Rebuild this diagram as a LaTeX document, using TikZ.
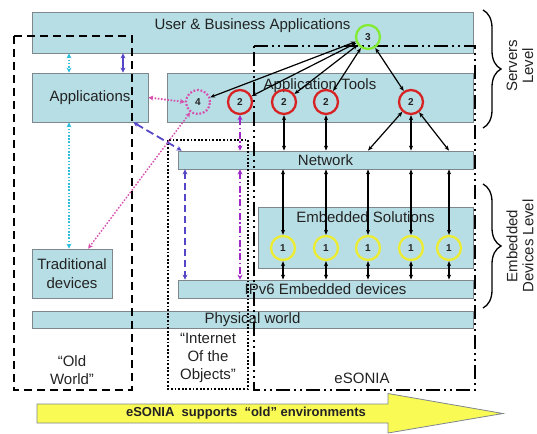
\documentclass[tikz,border=0pt]{standalone}
\usepackage{fontspec}
\setmainfont{Liberation Sans}
\usetikzlibrary{arrows.meta,calc,decorations.pathreplacing}
\definecolor{boxfill}{RGB}{183,222,228}
\definecolor{boxdraw}{RGB}{125,135,140}
\definecolor{txt}{RGB}{35,35,35}
\definecolor{cgreen}{RGB}{130,235,50}
\definecolor{cred}{RGB}{215,35,35}
\definecolor{cyel}{RGB}{236,236,50}
\definecolor{cpink}{RGB}{215,80,175}
\definecolor{ccyan}{RGB}{45,190,220}
\definecolor{cblue}{RGB}{85,70,200}
\definecolor{cpurp}{RGB}{160,40,200}
\definecolor{arrfill}{RGB}{250,250,85}
\tikzset{
  box/.style={draw=boxdraw, fill=boxfill, line width=0.8pt, inner sep=0pt, text=txt, font=\fontsize{15}{17}\selectfont, align=center},
  toplbl/.style={anchor=north, inner sep=0pt, text=txt, font=\fontsize{15}{17}\selectfont},
  plain/.style={text=txt, font=\fontsize{15}{18}\selectfont, align=center, inner sep=0pt},
  num/.style={circle, minimum size=24pt, inner sep=0pt, line width=2.3pt, text=txt, font=\bfseries\fontsize{10}{10}\selectfont},
  blk/.style={line width=1.2pt, black, {Stealth[length=5pt,width=4pt]}-{Stealth[length=5pt,width=4pt]}},
  oldframe/.style={line width=2.2pt, dash pattern=on 8pt off 5pt},
  iotframe/.style={line width=2.3pt, dash pattern=on 1.8pt off 1.8pt},
  esframe/.style={line width=2pt, dash pattern=on 14pt off 4pt on 2pt off 4pt on 2pt off 4pt},
  brc/.style={decorate, decoration={brace, amplitude=18pt}, line width=1.3pt, black},
}
\begin{document}
\begin{tikzpicture}[x=1pt,y=-1pt]
\useasboundingbox (0,0) rectangle (537,433);
% boxes
\node[box, minimum width=441pt, minimum height=41pt,
  label={[toplbl, yshift=-7pt]north:User \& Business Applications}] (uba) at (252.5,32.5) {};
\node[box, minimum width=116pt, minimum height=49pt] (apps) at (90,97.5) {Applications};
\node[box, minimum width=306pt, minimum height=49pt,
  label={[toplbl, yshift=-6pt]north:Application Tools}] (tools) at (320,97.5) {};
\node[box, minimum width=295pt, minimum height=18pt] (net) at (325.5,160) {Network};
\node[box, minimum width=215pt, minimum height=61pt,
  label={[toplbl, yshift=-5pt]north:Embedded Solutions}] (emb) at (365.5,237.5) {};
\node[box, minimum width=295pt, minimum height=18pt] (ipv6) at (325.5,289) {IPv6 Embedded devices};
\node[box, minimum width=441pt, minimum height=17pt] (phys) at (252.5,319.5) {Physical world};
\node[box, minimum width=80pt, minimum height=49pt, font=\fontsize{15}{19}\selectfont] (trad) at (72,273.5) {Traditional\\devices};

% frames
\draw[oldframe] (14,36) rectangle (132,390);
\draw[iotframe] (168,140) rectangle (248,389);
\draw[esframe] (254,46) -- (475,46) -- (475,390) -- (254,390) -- cycle;

% frame texts
\node[plain] (oldw) at (72,370) {“Old\\World”};
\node[plain] (iot) at (208,358) {“Internet\\Of the\\Objects”};
\node[plain] (esonia) at (362,378) {eSONIA};

% circles
\node[num, draw=cgreen] (c3) at (368,37) {3};
\node[num, draw=cpink, line width=2.2pt, dash pattern=on 1.8pt off 1.8pt] (c4) at (198,102) {4};
\node[num, draw=cred] (c2a) at (240,102) {2};
\node[num, draw=cred] (c2b) at (284,102) {2};
\node[num, draw=cred] (c2c) at (326,102) {2};
\node[num, draw=cred] (c2d) at (411,102) {2};
\node[num, draw=cyel] (c1a) at (283,248) {1};
\node[num, draw=cyel] (c1b) at (326,248) {1};
\node[num, draw=cyel] (c1c) at (368,248) {1};
\node[num, draw=cyel] (c1d) at (411,248) {1};
\node[num, draw=cyel] (c1e) at (449,248) {1};

% helper coordinates
\coordinate (cx) at (69,0);
\coordinate (bx1) at (123,0);
\coordinate (bx2) at (185,0);

% coloured connectors
\draw[ccyan, line width=1.6pt, dash pattern=on 1.6pt off 1.6pt, {Stealth[length=5pt,width=5pt]}-{Stealth[length=5pt,width=5pt]}]
  (cx |- uba.south) -- (cx |- apps.north);
\draw[ccyan, line width=1.6pt, dash pattern=on 1.6pt off 1.6pt, {Stealth[length=5pt,width=5pt]}-{Stealth[length=5pt,width=5pt]}]
  (cx |- apps.south) -- (cx |- trad.north);
\draw[cblue, line width=1.4pt, {Stealth[length=5pt,width=5pt]}-{Stealth[length=5pt,width=5pt]}]
  (bx1 |- uba.south) -- (bx1 |- apps.north);
\draw[cpink, line width=1.8pt, dash pattern=on 1.6pt off 1.6pt, {Stealth[length=5pt,width=5pt]}-{Stealth[length=5pt,width=5pt]}]
  (apps.east) -- (c4.west);
\draw[cpink, line width=1.4pt, dash pattern=on 1.6pt off 1.6pt, {Stealth[length=5pt,width=5pt]}-{Stealth[length=5pt,width=5pt]}]
  (c4) -- ($(trad.north)!0.4!(trad.north east)$);
\draw[cblue, line width=1.8pt, dash pattern=on 8pt off 4pt, {Stealth[length=5pt,width=5pt]}-{Stealth[length=5pt,width=5pt]}]
  ($(apps.south east)+(-15,0)$) -- ($(net.north west)+(4,0)$);
\draw[cblue, line width=1.6pt, dash pattern=on 7pt off 4pt, {Stealth[length=5pt,width=5pt]}-{Stealth[length=5pt,width=5pt]}]
  (bx2 |- net.south) -- (bx2 |- ipv6.north);
\draw[cpurp, line width=1.6pt, dash pattern=on 7pt off 2.5pt on 1.5pt off 2.5pt, {Stealth[length=5pt,width=5pt]}-{Stealth[length=5pt,width=5pt]}]
  (c2a.south) -- (c2a |- net.north);
\draw[cpurp, line width=1.6pt, dash pattern=on 7pt off 2.5pt on 1.5pt off 2.5pt, {Stealth[length=5pt,width=5pt]}-{Stealth[length=5pt,width=5pt]}]
  (c2a |- net.south) -- (c2a |- ipv6.north);

% black connectors
\draw[blk] (c3) -- (c4);
\draw[blk] (c3) -- (c2a);
\draw[blk] (c3) -- (c2b);
\draw[blk] (c3) -- (c2c);
\draw[blk] (c3) -- (c2d);
\draw[blk] (c2b) -- (c2b |- net.north);
\draw[blk] (c2c) -- (c2c |- net.north);
\draw[blk] (c2d) -- (c2d |- net.north);
\draw[blk] (c2d) -- (c1c |- net.north);
\draw[blk] (c2d) -- (c1e |- net.north);
\foreach \c in {c1a,c1b,c1c,c1d,c1e}{
  \draw[blk] (\c |- net.south) -- (\c.north);
  \draw[blk] (\c.south) -- (\c |- ipv6.north);
}

% braces
\draw[brc] (483,10) -- (483,128);
\draw[brc] (483,184) -- (483,308);
\node[plain, rotate=90, font=\fontsize{15}{16}\selectfont] (srv) at (520,66) {Servers\\Level};
\node[plain, rotate=90, font=\fontsize{15}{16}\selectfont] (edl) at (520,246) {Embedded\\Devices Level};

% bottom arrow
\draw[draw=boxdraw, fill=arrfill, line width=0.8pt] (37,404) -- (388,404) -- (388,393.5) -- (503,413.5) -- (388,433) -- (388,423) -- (37,423) -- cycle;
\node[text=txt, font=\bfseries\fontsize{13}{13}\selectfont, inner sep=0pt] (bot) at (246,413.5) {eSONIA\ \ supports\ \ “old” environments};
\end{tikzpicture}
\end{document}
